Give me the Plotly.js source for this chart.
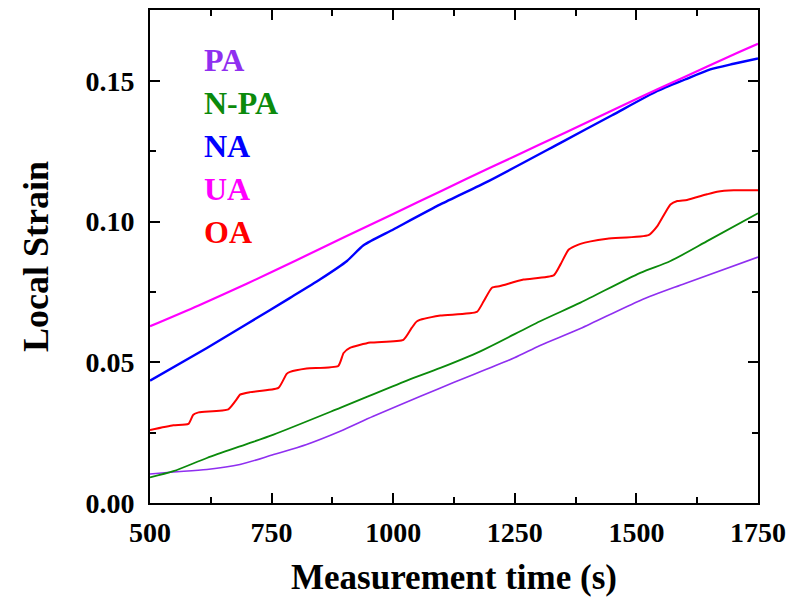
<!DOCTYPE html>
<html>
<head>
<meta charset="utf-8">
<script src="https://cdn.plot.ly/plotly-3.0.1.min.js"></script>
<style>
  html, body { margin: 0; padding: 0; background: #fff; }
  #chart { width: 793px; height: 603px; }
</style>
</head>
<body>
<div id="chart"></div>
<script>
// ---- Data ----
const seriesNames = ["PA", "N-PA", "NA", "UA", "OA"];
const seriesColors = ["#8F2FF0", "#0B8A0B", "#0000FF", "#FF00FF", "#FF0000"];

const tPA = [500, 548, 617, 685, 754, 822, 891, 959, 1056, 1124, 1248, 1302, 1385, 1508, 1600, 1750];
const yPA = [0.0103, 0.0110, 0.0119, 0.0137, 0.0172, 0.0208, 0.0255, 0.0308, 0.0379, 0.0428, 0.0515, 0.0560, 0.0620, 0.0720, 0.0780, 0.0874];

const tNPA = [500, 548, 617, 700, 754, 891, 1028, 1097, 1179, 1302, 1385, 1508, 1570, 1650, 1750];
const yNPA = [0.0091, 0.0113, 0.0160, 0.0210, 0.0243, 0.0338, 0.0435, 0.0480, 0.0539, 0.0646, 0.0712, 0.0818, 0.0860, 0.0935, 0.1030];

const tNA = [500, 617, 700, 788, 850, 905, 939, 1001, 1097, 1196, 1344, 1450, 1543, 1600, 1652, 1700, 1750];
const yNA = [0.0435, 0.0551, 0.0637, 0.0729, 0.0795, 0.0860, 0.0916, 0.0973, 0.1061, 0.1144, 0.1280, 0.1378, 0.1464, 0.1505, 0.1541, 0.1561, 0.1580];

const tUA = [500, 600, 700, 800, 900, 1000, 1100, 1200, 1300, 1400, 1500, 1600, 1700, 1750];
const yUA = [0.0628, 0.0702, 0.0780, 0.0862, 0.0945, 0.1027, 0.1110, 0.1192, 0.1273, 0.1354, 0.1436, 0.1515, 0.1594, 0.1632];

const tOA = [500, 548, 579, 589, 600, 661, 678, 685, 706, 764, 781, 788, 822, 887, 898, 911, 953, 1021, 1038, 1049,
             1097, 1172, 1186, 1203, 1220, 1268, 1330, 1344, 1361, 1385, 1440, 1525, 1543, 1570, 1584, 1604, 1645, 1666, 1700, 1750];
const yOA = [0.0259, 0.0276, 0.0281, 0.0314, 0.0322, 0.0333, 0.0368, 0.0385, 0.0394, 0.0409, 0.0459, 0.0466, 0.0478, 0.0487, 0.0533, 0.0551, 0.0570, 0.0580, 0.0622, 0.0646,
             0.0666, 0.0679, 0.0717, 0.0765, 0.0771, 0.0794, 0.0809, 0.0848, 0.0901, 0.0921, 0.0939, 0.0952, 0.0984, 0.1061, 0.1073, 0.1077, 0.1097, 0.1106, 0.1111, 0.1111];

const xTickVals = [500, 750, 1000, 1250, 1500, 1750];
const yTickVals = [0.00, 0.05, 0.10, 0.15];

const xTitle = "Measurement time (s)";
const yTitle = "Local Strain";

// ---- Build chart ----
const FONT = "'Liberation Serif', 'Times New Roman', serif";
const xs = [tPA, tNPA, tNA, tUA, tOA];
const ys = [yPA, yNPA, yNA, yUA, yOA];
const widths = [1.6, 1.8, 2.4, 2.2, 2.0];
const smooth = [0.8, 0.8, 0.6, 0.8, 0.5];

const traces = seriesNames.map((n, i) => ({
  x: xs[i], y: ys[i], name: n, type: "scatter", mode: "lines",
  line: { color: seriesColors[i], width: widths[i], shape: "spline", smoothing: smooth[i] },
  hoverinfo: "skip"
}));

const annotations = seriesNames.map((n, i) => ({
  xref: "paper", yref: "paper",
  x: 0.085, y: 1 - (60 + i * 43 - 10) / 493,
  xanchor: "left", yanchor: "middle",
  text: "<b>" + n + "</b>", showarrow: false,
  font: { family: FONT, size: 32, color: seriesColors[i] }
}));

const axisCommon = {
  showline: true, linecolor: "#000", linewidth: 2, mirror: "allticks",
  ticks: "inside", ticklen: 10, tickwidth: 2, tickcolor: "#000",
  showgrid: false, zeroline: false,
  tickfont: { family: FONT, size: 28, color: "#000", weight: "bold" }
};

const layout = {
  width: 793, height: 603,
  margin: { l: 150, r: 35, t: 10, b: 100 },
  paper_bgcolor: "#fff", plot_bgcolor: "#fff",
  showlegend: false,
  xaxis: Object.assign({}, axisCommon, {
    range: [500, 1750], tickvals: xTickVals,
    ticktext: xTickVals.map(v => String(v)),
    minor: { ticks: "inside", ticklen: 6, tickwidth: 2, tickcolor: "#000", dtick: 125, tick0: 500, showgrid: false },
    ticklabelstandoff: 3,
    title: { text: "<b>" + xTitle + "</b>", font: { family: FONT, size: 35, color: "#000" }, standoff: 18 }
  }),
  yaxis: Object.assign({}, axisCommon, {
    range: [0, 0.1752], tickvals: yTickVals,
    ticktext: yTickVals.map(v => v.toFixed(2)),
    minor: { ticks: "inside", ticklen: 6, tickwidth: 2, tickcolor: "#000", dtick: 0.025, tick0: 0, showgrid: false },
    ticklabelstandoff: 8,
    title: { text: "<b>" + yTitle + "</b>", font: { family: FONT, size: 36, color: "#000" }, standoff: 26 }
  }),
  annotations: annotations
};

Plotly.newPlot("chart", traces, layout, { staticPlot: true, displayModeBar: false });
</script>
</body>
</html>
